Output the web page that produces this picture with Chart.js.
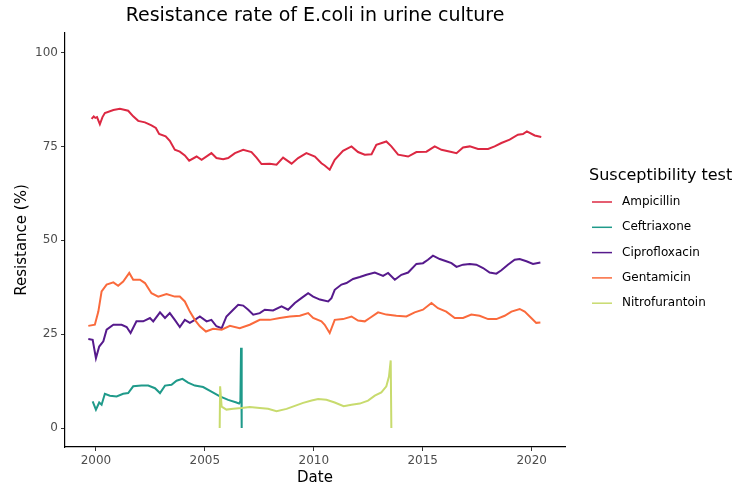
<!DOCTYPE html>
<html>
<head>
<meta charset="utf-8">
<script src="https://cdn.jsdelivr.net/npm/chart.js@4"></script>
<style>
  html, body { margin: 0; padding: 0; background: #fff; }
  #wrap { width: 734px; height: 487px; }
</style>
</head>
<body>
<div id="wrap"><canvas id="myChart" width="734" height="487"></canvas></div>
<script>
const chartTitle = "Resistance rate of E.coli in urine culture";
const legendTitle = "Susceptibility test";
const seriesNames = ["Ampicillin", "Ceftriaxone", "Ciprofloxacin", "Gentamicin", "Nitrofurantoin"];
const seriesColors = ["#DC2842", "#1F9A8A", "#561A8C", "#FA6A3C", "#C8DB6E"];
const xTicks = [2000, 2005, 2010, 2015, 2020];
const yTicks = [0, 25, 50, 75, 100];

// dates in decimal years, values in %
const ampDates = [1999.8, 1999.9, 1999.97, 2000.05, 2000.18, 2000.3, 2000.41, 2000.8, 2001.1, 2001.48, 2001.71, 2001.94, 2002.25, 2002.55, 2002.75, 2002.9, 2003.2, 2003.39, 2003.62, 2003.85, 2004.08, 2004.28, 2004.62, 2004.85, 2005.3, 2005.53, 2005.84, 2006.07, 2006.38, 2006.76, 2007.14, 2007.37, 2007.6, 2007.98, 2008.29, 2008.59, 2008.98, 2009.28, 2009.66, 2010.05, 2010.35, 2010.5, 2010.73, 2010.96, 2011.34, 2011.73, 2012.03, 2012.34, 2012.65, 2012.87, 2013.33, 2013.56, 2013.87, 2014.33, 2014.71, 2015.17, 2015.55, 2015.86, 2016.32, 2016.55, 2016.85, 2017.16, 2017.54, 2018.0, 2018.3, 2018.61, 2018.99, 2019.37, 2019.6, 2019.78, 2020.14, 2020.44];
const ampValues = [82.3, 83.0, 82.6, 82.8, 80.9, 82.8, 83.9, 84.7, 85.0, 84.5, 83.0, 81.8, 81.4, 80.6, 79.9, 78.3, 77.7, 76.5, 74.1, 73.6, 72.6, 71.2, 72.3, 71.4, 73.2, 71.9, 71.6, 71.9, 73.2, 74.1, 73.5, 72.0, 70.3, 70.4, 70.1, 72.0, 70.4, 71.9, 73.2, 72.3, 70.5, 69.9, 68.8, 71.4, 73.8, 75.0, 73.5, 72.8, 72.9, 75.4, 76.3, 75.0, 72.8, 72.3, 73.5, 73.6, 75.0, 74.1, 73.5, 73.2, 74.7, 75.0, 74.3, 74.3, 75.0, 75.9, 76.8, 78.1, 78.3, 79.0, 77.9, 77.5];

const ceftDates = [1999.85, 2000.0, 2000.15, 2000.26, 2000.41, 2000.64, 2000.95, 2001.25, 2001.48, 2001.71, 2002.09, 2002.4, 2002.71, 2002.94, 2003.17, 2003.47, 2003.7, 2003.97, 2004.23, 2004.54, 2004.92, 2005.3, 2005.69, 2006.07, 2006.45, 2006.57, 2006.63, 2006.66, 2006.69];
const ceftValues = [7.1, 4.9, 6.8, 6.2, 9.1, 8.6, 8.4, 9.1, 9.3, 11.1, 11.3, 11.3, 10.6, 9.3, 11.3, 11.5, 12.6, 13.1, 12.1, 11.3, 10.9, 9.7, 8.4, 7.5, 6.8, 6.5, 7.1, 21.4, 0];

const ciproDates = [1999.65, 1999.85, 2000.0, 2000.15, 2000.34, 2000.49, 2000.8, 2001.18, 2001.41, 2001.59, 2001.86, 2002.17, 2002.48, 2002.63, 2002.94, 2003.17, 2003.39, 2003.62, 2003.85, 2004.08, 2004.31, 2004.54, 2004.77, 2005.08, 2005.3, 2005.53, 2005.77, 2005.99, 2006.3, 2006.53, 2006.76, 2006.99, 2007.22, 2007.52, 2007.75, 2008.13, 2008.52, 2008.82, 2009.13, 2009.43, 2009.74, 2009.97, 2010.28, 2010.66, 2010.81, 2010.96, 2011.27, 2011.5, 2011.8, 2012.11, 2012.42, 2012.8, 2013.18, 2013.41, 2013.72, 2014.02, 2014.33, 2014.71, 2015.01, 2015.24, 2015.47, 2015.78, 2016.08, 2016.32, 2016.55, 2016.85, 2017.16, 2017.46, 2017.77, 2018.07, 2018.38, 2018.61, 2018.91, 2019.22, 2019.45, 2019.76, 2020.06, 2020.4];
const ciproValues = [23.7, 23.5, 18.6, 21.7, 23.1, 26.2, 27.5, 27.5, 26.9, 25.3, 28.4, 28.4, 29.3, 28.4, 30.8, 29.3, 30.6, 28.8, 26.9, 28.8, 28.0, 28.8, 29.7, 28.4, 28.8, 27.1, 26.6, 29.7, 31.5, 32.8, 32.6, 31.5, 30.2, 30.6, 31.5, 31.3, 32.4, 31.5, 33.3, 34.6, 35.9, 35.0, 34.2, 33.7, 34.6, 36.8, 38.2, 38.6, 39.7, 40.2, 40.8, 41.4, 40.5, 41.3, 39.5, 40.8, 41.4, 43.7, 43.9, 44.8, 45.9, 45.0, 44.4, 43.9, 42.9, 43.5, 43.7, 43.5, 42.6, 41.4, 41.1, 42.0, 43.5, 44.8, 45.0, 44.4, 43.7, 44.1];

const gentDates = [1999.65, 1999.95, 2000.11, 2000.26, 2000.49, 2000.8, 2001.02, 2001.25, 2001.53, 2001.71, 2002.02, 2002.25, 2002.55, 2002.86, 2003.24, 2003.62, 2003.85, 2004.08, 2004.31, 2004.54, 2004.77, 2005.05, 2005.38, 2005.77, 2006.15, 2006.6, 2007.06, 2007.52, 2007.98, 2008.44, 2008.9, 2009.36, 2009.74, 2009.97, 2010.35, 2010.5, 2010.73, 2010.96, 2011.34, 2011.73, 2012.03, 2012.34, 2012.57, 2012.95, 2013.33, 2013.79, 2014.25, 2014.63, 2015.01, 2015.4, 2015.7, 2016.08, 2016.47, 2016.85, 2017.23, 2017.61, 2018.0, 2018.38, 2018.76, 2019.07, 2019.45, 2019.68, 2019.98, 2020.21, 2020.4];
const gentValues = [27.2, 27.5, 31.0, 36.4, 38.2, 38.8, 37.9, 39.0, 41.3, 39.5, 39.5, 38.6, 35.9, 35.0, 35.7, 35.0, 35.0, 33.7, 31.0, 28.8, 27.1, 25.7, 26.4, 26.2, 27.2, 26.6, 27.5, 28.8, 28.8, 29.3, 29.7, 29.9, 30.6, 29.3, 28.4, 27.5, 25.3, 28.8, 29.0, 29.7, 28.6, 28.4, 29.3, 30.8, 30.2, 29.9, 29.7, 30.8, 31.5, 33.3, 31.9, 31.0, 29.3, 29.3, 30.2, 29.9, 29.0, 29.0, 29.9, 31.0, 31.7, 31.0, 29.3, 28.0, 28.1];

const nitroDates = [2005.68, 2005.7, 2005.77, 2005.99, 2006.3, 2006.68, 2007.06, 2007.52, 2007.9, 2008.29, 2008.75, 2009.13, 2009.51, 2009.9, 2010.2, 2010.58, 2010.96, 2011.37, 2011.73, 2012.11, 2012.49, 2012.8, 2013.1, 2013.33, 2013.45, 2013.53, 2013.56];
const nitroValues = [0, 11.1, 5.7, 4.9, 5.1, 5.3, 5.6, 5.3, 5.1, 4.5, 5.1, 5.9, 6.7, 7.3, 7.7, 7.5, 6.8, 5.8, 6.2, 6.5, 7.3, 8.6, 9.5, 11.1, 13.7, 18.0, 0];

const allDates = [ampDates, ceftDates, ciproDates, gentDates, nitroDates];
const allValues = [ampValues, ceftValues, ciproValues, gentValues, nitroValues];

const FONT = "'DejaVu Sans', sans-serif";

// title + legend drawn the ggplot way (title centred on the panel, legend at right)
const ggExtras = {
  id: "ggExtras",
  afterDraw(chart) {
    const ctx = chart.ctx;
    const area = chart.chartArea;
    ctx.save();
    ctx.fillStyle = "#000";
    ctx.textBaseline = "middle";
    ctx.textAlign = "center";
    ctx.font = "19px " + FONT;
    ctx.fillText(chartTitle, (area.left + area.right) / 2, 16);

    ctx.textAlign = "left";
    ctx.font = "16px " + FONT;
    ctx.fillText(legendTitle, 589, 176);
    ctx.font = "12px " + FONT;
    chart.data.datasets.forEach(function (ds, i) {
      const y = 202 + i * 25.3;
      ctx.strokeStyle = ds.borderColor;
      ctx.lineWidth = 1.5;
      ctx.beginPath();
      ctx.moveTo(592, y);
      ctx.lineTo(612, y);
      ctx.stroke();
      ctx.fillStyle = "#000";
      ctx.fillText(ds.label, 622, y);
    });
    ctx.restore();
  },
};

const ctx = document.getElementById("myChart").getContext("2d");
const myChart = new Chart(ctx, {
  type: "line",
  data: {
    datasets: seriesNames.map(function (name, i) {
      return {
        label: name,
        data: allDates[i].map(function (d, j) { return { x: d, y: allValues[i][j] }; }),
        borderColor: seriesColors[i],
        backgroundColor: seriesColors[i],
        borderWidth: 2,
        pointRadius: 0,
        tension: 0,
        fill: false,
        order: seriesNames.length - i,
      };
    }),
  },
  plugins: [ggExtras],
  options: {
    responsive: false,
    animation: false,
    events: [],
    layout: { padding: { top: 33, right: 169, left: 0, bottom: 0 } },
    plugins: {
      legend: { display: false },
      title: { display: false },
      tooltip: { enabled: false },
    },
    scales: {
      x: {
        type: "linear",
        min: 1998.58,
        max: 2021.53,
        afterBuildTicks: function (scale) {
          scale.ticks = xTicks.map(function (v) { return { value: v }; });
        },
        afterFit: function (scale) { scale.height = 40; },
        grid: { drawOnChartArea: false, drawTicks: true, tickLength: 4, color: "#333" },
        border: { display: true, color: "#000", width: 1.2 },
        ticks: {
          color: "#4D4D4D",
          font: { family: FONT, size: 12 },
          padding: 3,
          maxRotation: 0,
          callback: function (v) { return String(v); },
        },
        title: {
          display: true,
          text: "Date",
          color: "#000",
          font: { family: FONT, size: 15 },
          padding: { top: 0, bottom: 0 },
        },
      },
      y: {
        min: -5.06,
        max: 105.2,
        afterBuildTicks: function (scale) {
          scale.ticks = yTicks.map(function (v) { return { value: v }; });
        },
        afterFit: function (scale) { scale.width = 65; },
        grid: { drawOnChartArea: false, drawTicks: true, tickLength: 4, color: "#333" },
        border: { display: true, color: "#000", width: 1.2 },
        ticks: {
          color: "#4D4D4D",
          font: { family: FONT, size: 12 },
          padding: 3,
          callback: function (v) { return String(v); },
        },
        title: {
          display: true,
          text: "Resistance (%)",
          color: "#000",
          font: { family: FONT, size: 15 },
          padding: { top: 13, bottom: 0 },
        },
      },
    },
  },
});
</script>
</body>
</html>
